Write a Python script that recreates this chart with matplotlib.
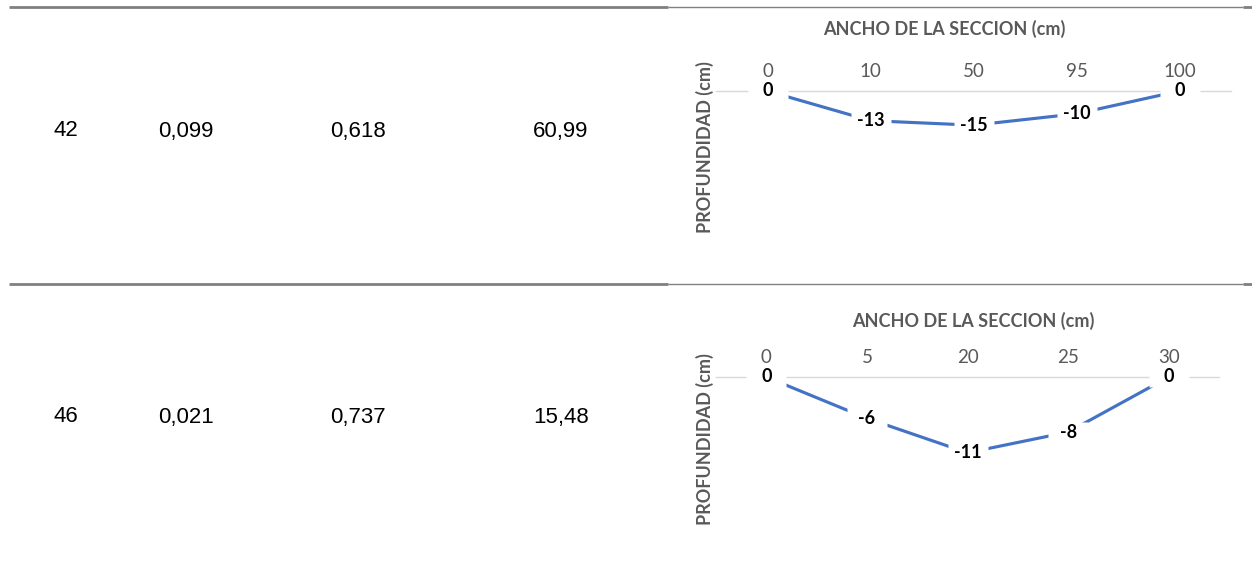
import matplotlib
matplotlib.use("Agg")
from matplotlib import pyplot as plt
from matplotlib.lines import Line2D

# filas de la tabla
filas = ["42", "46"]
col_b = ["0,099", "0,021"]
col_c = ["0,618", "0,737"]
col_d = ["60,99", "15,48"]

# seccion 1
ancho_1 = ["0", "10", "50", "95", "100"]
prof_1 = [0, -13, -15, -10, 0]

# seccion 2
ancho_2 = ["0", "5", "20", "25", "30"]
prof_2 = [0, -6, -11, -8, 0]

W, H = 1252, 574
fig = plt.figure(figsize=(W / 100, H / 100), dpi=100)

GRIS = "#595959"
AZUL = "#4472C4"
FUENTE = ["Lato", "DejaVu Sans"]
NARROW = ["Liberation Sans Narrow", "Liberation Sans", "DejaVu Sans"]


def ejes(izq, arriba, der, abajo):
    return fig.add_axes([izq / W, 1 - abajo / H, (der - izq) / W, (abajo - arriba) / H])


def linea_h(y, x0, x1, grosor):
    fig.add_artist(Line2D([x0 / W, x1 / W], [1 - y / H, 1 - y / H],
                          color="#808080", lw=grosor, solid_capstyle="butt"))


def seccion(ax, etiquetas, valores, ymin):
    xs = list(range(len(valores)))
    ax.plot(xs, valores, color=AZUL, lw=2.25, zorder=2)
    # caja blanca detras de cada etiqueta
    ax.plot(xs, valores, ls="none", marker=[(-1, -0.5), (1, -0.5), (1, 0.5), (-1, 0.5)],
            markersize=29, markerfacecolor="white", markeredgecolor="none",
            zorder=4, clip_on=False)
    for x, v in zip(xs, valores):
        ax.text(x, v, str(v), ha="center", va="center", fontsize=13,
                fontweight="bold", family=FUENTE, color="black", zorder=5, clip_on=False)
    ax.set_xlim(-0.5, len(valores) - 0.5)
    ax.set_ylim(ymin, 0)
    ax.set_xticks(xs)
    ax.set_xticklabels(etiquetas, family=FUENTE, fontsize=13.5, color=GRIS)
    ax.xaxis.tick_top()
    ax.tick_params(axis="x", length=0, pad=8)
    ax.set_yticks([])
    for lado in ["left", "right", "bottom"]:
        ax.spines[lado].set_visible(False)
    ax.spines["top"].set_color("#d9d9d9")
    ax.spines["top"].set_linewidth(1)
    ax.spines["top"].set_zorder(1)
    ax.patch.set_alpha(0)


# lineas de la tabla
for y in [6.5, 284]:
    linea_h(y, 9, 668, 2)
    linea_h(y, 668, 1243, 1)
    linea_h(y, 1243, 1252, 2)

# texto de la tabla
for fila, b, c, d, y in zip(filas, col_b, col_c, col_d, [131, 417]):
    for texto, x in zip([fila, b, c, d], [53, 158, 330, 533]):
        fig.text(x / W, 1 - y / H, texto, ha="left", va="center",
                 fontsize=16, family=NARROW, color="black")

ax1 = ejes(716, 91, 1231, 205)
seccion(ax1, ancho_1, prof_1, -50)
ax2 = ejes(716, 377, 1219, 501)
seccion(ax2, ancho_2, prof_2, -18)

for cx, cy, ly in [(944, 29, 147), (973, 321, 439)]:
    fig.text(cx / W, 1 - cy / H, "ANCHO DE LA SECCION (cm)", ha="center", va="center",
             fontsize=13, fontweight="bold", family=FUENTE, color=GRIS)
    fig.text(705 / W, 1 - ly / H, "PROFUNDIDAD (cm)", ha="center", va="center",
             rotation=90, fontsize=13, fontweight="bold", family=FUENTE, color=GRIS)

fig.savefig("out.png", dpi=100)
